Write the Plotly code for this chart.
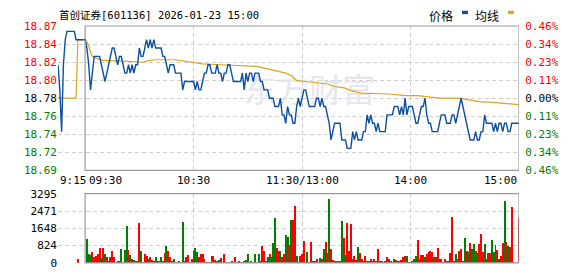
import plotly.graph_objects as go

# ---------------- data ----------------
TITLE = "首创证券[601136] 2026-01-23 15:00"
PREV_CLOSE = 18.78
MAX_PCT = 0.46
PCT_STEPS = [-0.46, -0.345, -0.23, -0.115, 0.0, 0.115, 0.23, 0.345, 0.46]
PRICE_LABELS = ["18.69", "18.72", "18.74", "18.76", "18.78", "18.80", "18.82", "18.84", "18.87"]
PCT_LABELS = ["0.46%", "0.34%", "0.23%", "0.11%", "0.00%", "0.11%", "0.23%", "0.34%", "0.46%"]
VOL_TICKS = [0, 824, 1648, 2471, 3295]

# minute index counted from 9:15 (pre-market 9:15-9:30 = 0..15, trading 9:30..15:00 = 15..255)
TIME_POS = [0, 15, 75, 135, 195, 255]
TIME_LABELS = ["9:15", "09:30", "10:30", "11:30/13:00", "14:00", "15:00"]
GRID_POS = [0, 75, 135, 195]

# pre-market (9:15 .. 9:29)
PRE_PRICE = [18.82, 18.79, 18.74, 18.82, 18.85, 18.86, 18.86, 18.86, 18.86, 18.86,
             18.85, 18.85, 18.85, 18.85, 18.85]
PRE_AVG = [18.78, 18.78, 18.78, 18.78, 18.78, 18.78, 18.78, 18.78, 18.78, 18.78,
           18.78, 18.85, 18.85, 18.85, 18.85]
PRE_VOLUME = [0, 0, 0, 0, 0, 0, 0, 0, 0, 0, 0, 180, 0, 0, 0]
PRE_UP = [1] * 15

# trading minutes t = 0..240 (9:30 .. 15:00)
PRICE = [
    18.85, 18.84, 18.82, 18.79, 18.81, 18.83, 18.83, 18.83, 18.83, 18.82,
    18.81, 18.80, 18.81, 18.82, 18.83, 18.84, 18.84, 18.83, 18.82, 18.83,
    18.83, 18.82, 18.81, 18.81, 18.82, 18.81, 18.82, 18.81, 18.82, 18.82,
    18.84, 18.83, 18.83, 18.84, 18.85, 18.84, 18.85, 18.84, 18.85, 18.84,
    18.84, 18.84, 18.84, 18.83, 18.83, 18.82, 18.81, 18.82, 18.82, 18.82,
    18.81, 18.81, 18.81, 18.81, 18.79, 18.80, 18.80, 18.80, 18.80, 18.80,
    18.80, 18.79, 18.80, 18.79, 18.79, 18.80, 18.81, 18.81, 18.82, 18.82,
    18.81, 18.81, 18.81, 18.82, 18.81, 18.81, 18.80, 18.81, 18.81, 18.82,
    18.82, 18.81, 18.80, 18.80, 18.80, 18.80, 18.80, 18.81, 18.79, 18.81,
    18.80, 18.81, 18.81, 18.80, 18.81, 18.81, 18.81, 18.80, 18.80, 18.79,
    18.79, 18.79, 18.78, 18.78, 18.78, 18.77, 18.77, 18.77, 18.78, 18.76,
    18.76, 18.75, 18.77, 18.76, 18.76, 18.75, 18.75, 18.77, 18.78, 18.77,
    18.78, 18.79, 18.79, 18.78, 18.77, 18.77, 18.77, 18.77, 18.78, 18.78,
    18.77, 18.78, 18.77, 18.77, 18.76, 18.75, 18.73, 18.74, 18.75, 18.75,
    18.75, 18.75, 18.73, 18.73, 18.73, 18.72, 18.72, 18.72, 18.74, 18.73,
    18.74, 18.73, 18.73, 18.73, 18.74, 18.74, 18.76, 18.75, 18.76, 18.75,
    18.75, 18.74, 18.75, 18.74, 18.74, 18.74, 18.74, 18.76, 18.76, 18.76,
    18.76, 18.77, 18.77, 18.77, 18.76, 18.77, 18.76, 18.78, 18.76, 18.77,
    18.77, 18.77, 18.76, 18.75, 18.75, 18.76, 18.77, 18.77, 18.78, 18.76,
    18.75, 18.75, 18.74, 18.74, 18.74, 18.74, 18.75, 18.76, 18.76, 18.76,
    18.75, 18.75, 18.75, 18.76, 18.76, 18.75, 18.76, 18.77, 18.78, 18.77,
    18.76, 18.75, 18.74, 18.73, 18.73, 18.73, 18.74, 18.73, 18.73, 18.74,
    18.74, 18.76, 18.75, 18.75, 18.75, 18.75, 18.74, 18.75, 18.74, 18.75,
    18.75, 18.74, 18.75, 18.75, 18.74, 18.74, 18.75, 18.75, 18.75, 18.75,
    18.75,
]

# average-price line, read at its turning points (trading minute, price)
AVG_T = [0, 2, 3, 4, 6, 10, 16, 23, 28, 32, 35, 39, 50, 56, 65, 75, 84, 95, 102, 108,
         111, 114, 117, 122, 127, 134, 138, 144, 147, 153, 168, 177, 184, 191, 196, 207,
         213, 218, 226, 231, 233, 240]
AVG_P = [18.851, 18.843, 18.835, 18.830, 18.828, 18.825, 18.825, 18.824, 18.823, 18.823,
         18.825, 18.826, 18.826, 18.824, 18.821, 18.820, 18.819, 18.818, 18.8145, 18.812,
         18.810, 18.807, 18.801, 18.800, 18.7986, 18.797, 18.794, 18.792, 18.789, 18.786,
         18.785, 18.783, 18.783, 18.7815, 18.780, 18.780, 18.778, 18.776, 18.775, 18.7745,
         18.7736, 18.7724]

# volume, trading minutes t = 1..240
VOLUME = [
    1168, 450, 375, 525, 270, 330, 450, 720, 225, 720, 450, 300, 105, 270, 570, 300, 75, 120, 120, 660,
    30, 630, 1750, 630, 400, 210, 150, 120, 90, 1890,
    570, 60, 420, 360, 180, 270, 150, 120, 270, 120, 120, 270, 90, 495, 810, 600, 270, 120, 210, 75,
    60, 120, 60, 1980,
    120, 270, 375, 75, 210, 570, 720, 540, 300, 420, 420, 210, 75, 75, 60, 330, 330, 150, 90, 150,
    225, 60, 420,
    75, 75, 75, 120, 60, 270, 60, 90, 60, 60, 90, 150, 420, 60, 90, 60, 420, 60, 420, 90,
    825, 600, 120, 270, 450, 270, 960, 2170,
    720, 570, 600, 270, 450, 1320, 1230, 870, 2070, 2070, 2700, 330, 60,
    320, 420, 1050, 75, 540, 60, 990, 90, 120, 180, 60, 240, 180, 675, 990, 480, 3055, 660, 150, 120,
    90, 90, 90, 2020, 1200, 375, 1890, 600, 1860,
    180, 360, 150, 780, 480, 180, 120, 360, 90, 90, 210, 90, 210, 90, 660, 90, 120, 60, 120, 270,
    180, 120, 60, 210, 150, 90, 120, 150, 300, 330, 330, 60, 60, 90, 210, 330, 1125,
    210, 390, 390, 300, 450, 510, 600, 510, 270, 300, 720, 180, 180, 60, 180, 90, 120, 480, 2200, 120,
    450, 180, 600, 660, 120, 1210,
    600, 510, 960, 660, 930, 600, 480, 900, 1410, 540, 900, 180, 480, 480, 1080, 510, 870, 630, 180, 330,
    960, 2940, 990, 810, 750, 2665, 30, 0, 0, 2170,
]
# 1 = red (up), 0 = green (down)
VOL_UP = [
    0, 0, 0, 1, 1, 1, 1, 1, 0, 1, 0, 1, 0, 1, 1, 1, 0, 0, 0, 0, 1, 0, 0, 1, 0, 1, 0, 1, 1, 1,
    0, 1, 1, 1, 0, 1, 1, 0, 0, 1, 0, 0, 1, 1, 0, 1, 1, 1, 0, 1, 1, 1, 0, 0,
    1, 1, 1, 1, 1, 0, 0, 0, 1, 1, 1, 1, 1, 1, 0, 1, 1, 1, 1, 0, 1, 1, 1,
    1, 1, 0, 1, 1, 1, 0, 1, 1, 1, 0, 0, 0, 1, 1, 0, 0, 1, 0, 1, 1, 1, 1, 0, 1, 0, 0, 0,
    1, 1, 0, 1, 1, 0, 0, 1, 0, 1, 1, 0, 0,
    1, 1, 1, 1, 0, 0, 1, 1, 0, 1, 1, 0, 1, 0, 1, 1, 0, 1, 1, 1, 1, 1, 0, 0, 1, 0, 1, 1, 1,
    1, 1, 1, 0, 1, 1, 0, 1, 1, 1, 1, 0, 1, 1, 1, 0, 1, 0, 1, 1, 1, 1, 0, 0, 1, 0, 1, 1, 1, 1,
    0, 1, 1, 0, 0, 0, 1,
    1, 1, 1, 0, 1, 1, 1, 1, 0, 1, 1, 1, 1, 0, 1, 1, 1, 1, 1, 0, 0, 0, 1, 1, 0, 0,
    1, 0, 1, 0, 0, 1, 0, 1, 1, 1, 0, 0, 1, 1, 0, 0, 1, 1, 0, 1, 1, 0, 1, 0, 1, 1, 1, 1, 1, 1,
]

WATERMARK = "东方财富"
WATERMARK_AT = (139, 18.785)

# ---------------- styling ----------------
W, H = 578, 276
X0, X1 = 58, 519          # pixel extent of the time axis
P_TOP, P_BOT = 21, 172.5  # price panel
V_TOP, V_BOT = 197, 269.5 # volume panel
PRE_LEN = 15
N_TOTAL = 255

BLUE = "#0b4fa2"
GOLD = "#daa520"
RED = "#ff0000"
GREEN = "#008000"
GRID = "#cfcfcf"
BORDER = "#9a9a9a"
FONT = "DejaVu Sans Mono, Noto Sans CJK SC, sans-serif"
DASH = "4px,3px"


def px_x(p):
    return p / W


def px_y(p):
    return 1 - p / H


lo = PREV_CLOSE * (1 - MAX_PCT / 100)
hi = PREV_CLOSE * (1 + MAX_PCT / 100)
price_ticks = [PREV_CLOSE * (1 + s / 100) for s in PCT_STEPS]


def col(s):
    return RED if s > 0 else (GREEN if s < 0 else "#000000")


left_text = [f'<span style="color:{col(s)}">{t}</span>' for s, t in zip(PCT_STEPS, PRICE_LABELS)]
right_text = [f'<span style="color:{col(s)}">{t}</span>' for s, t in zip(PCT_STEPS, PCT_LABELS)]

pre_x = list(range(PRE_LEN))
trade_x = [PRE_LEN + t for t in range(len(PRICE))]
vol_x = pre_x + [PRE_LEN + t for t in range(1, len(VOLUME) + 1)]
vol_y = PRE_VOLUME + VOLUME
vol_c = [RED if u else GREEN for u in PRE_UP + VOL_UP]

fig = go.Figure()

# watermark (behind lines)
fig.add_trace(go.Scatter(
    x=[WATERMARK_AT[0]], y=[WATERMARK_AT[1]], mode="text", text=[WATERMARK],
    textfont=dict(family="Noto Sans CJK SC", size=33, color="#e6e6ec"),
    hoverinfo="skip", showlegend=False, xaxis="x", yaxis="y"))

fig.add_trace(go.Scatter(
    x=pre_x + [PRE_LEN + t for t in AVG_T], y=PRE_AVG + AVG_P, mode="lines",
    line=dict(color=GOLD, width=1.2), hoverinfo="skip", showlegend=False,
    xaxis="x", yaxis="y"))
fig.add_trace(go.Scatter(
    x=pre_x + trade_x, y=PRE_PRICE + PRICE, mode="lines",
    line=dict(color=BLUE, width=1.4), hoverinfo="skip", showlegend=False,
    xaxis="x", yaxis="y"))
# carrier for the right-hand percentage axis
fig.add_trace(go.Scatter(
    x=[0, N_TOTAL], y=[PREV_CLOSE, PREV_CLOSE], mode="lines", opacity=0,
    line=dict(width=0), hoverinfo="skip", showlegend=False, xaxis="x", yaxis="y2"))

fig.add_trace(go.Bar(
    x=vol_x, y=vol_y, marker=dict(color=vol_c, line=dict(width=0)), width=0.55,
    hoverinfo="skip", showlegend=False, xaxis="x2", yaxis="y3"))

xdom = [px_x(X0), px_x(X1)]
common_x = dict(range=[0, N_TOTAL], domain=xdom, tickvals=GRID_POS, showticklabels=False,
                showgrid=True, gridcolor=GRID, griddash=DASH, gridwidth=1,
                zeroline=False, showline=False, ticks="", fixedrange=True)

fig.update_layout(
    width=W, height=H, autosize=False,
    margin=dict(l=0, r=0, t=0, b=0),
    paper_bgcolor="white", plot_bgcolor="white",
    bargap=0,
    xaxis=dict(anchor="y", **common_x),
    xaxis2=dict(anchor="y3", matches="x", **common_x),
    yaxis=dict(domain=[px_y(P_BOT), px_y(P_TOP)], range=[lo, hi], anchor="x",
               tickvals=price_ticks, ticktext=left_text, showgrid=True, gridcolor=GRID,
               griddash=DASH, zeroline=False, showline=False, ticks="",
               tickfont=dict(family=FONT, size=11, color="#000")),
    yaxis2=dict(overlaying="y", side="right", range=[lo, hi], anchor="x",
                tickvals=price_ticks, ticktext=right_text, showgrid=False,
                zeroline=False, showline=False, ticks="outside", ticklen=3,
                tickcolor="rgba(0,0,0,0)",
                tickfont=dict(family=FONT, size=11, color="#000")),
    yaxis3=dict(domain=[px_y(V_BOT), px_y(V_TOP)], range=[0, VOL_TICKS[-1]], anchor="x2",
                tickvals=VOL_TICKS, ticktext=[str(v) for v in VOL_TICKS],
                showgrid=True, gridcolor=GRID, griddash=DASH, zeroline=False,
                showline=False, ticks="", tickfont=dict(family=FONT, size=11, color="#000")),
)

shapes = []
# solid borders around the continuous-trading area
for xr, yr in (("x", "y domain"), ("x2", "y3 domain")):
    shapes.append(dict(type="rect", xref=xr, yref=yr, x0=PRE_LEN, x1=N_TOTAL, y0=0, y1=1,
                       line=dict(color=BORDER, width=1.2), layer="above"))
# legend swatches (blue for 价格, gold for 均线)
for xa, c in ((462, BLUE), (508, GOLD)):
    shapes.append(dict(type="rect", xref="paper", yref="paper", x0=px_x(xa), x1=px_x(xa + 6),
                       y0=px_y(8.5), y1=px_y(5), fillcolor=c, line=dict(width=0),
                       layer="above"))
fig.update_layout(shapes=shapes)

ann = []
ann.append(dict(text=TITLE, xref="paper", yref="paper", x=px_x(X0 - 1), y=px_y(9.5),
                xanchor="left", yanchor="middle", showarrow=False,
                font=dict(family="DejaVu Sans Mono, Noto Sans CJK SC", size=10.5, color="#000")))
ann.append(dict(text="价格", xref="paper", yref="paper", x=px_x(455), y=px_y(9.5),
                xanchor="right", yanchor="middle", showarrow=False,
                font=dict(family="Noto Sans CJK SC", size=12, color="#000")))
ann.append(dict(text="均线", xref="paper", yref="paper", x=px_x(501), y=px_y(9.5),
                xanchor="right", yanchor="middle", showarrow=False,
                font=dict(family="Noto Sans CJK SC", size=12, color="#000")))
anchors = ["left", "left", "center", "center", "center", "right"]
for pos, lab, a in zip(TIME_POS, TIME_LABELS, anchors):
    shift = 2 if lab == "09:30" else 0
    ann.append(dict(text=lab, xref="x", yref="paper", x=pos, y=px_y(183), xshift=shift,
                    xanchor=a, yanchor="middle", showarrow=False,
                    font=dict(family=FONT, size=11, color="#000")))
fig.update_layout(annotations=ann)

fig.write_html("out.html", config={"displayModeBar": False})
